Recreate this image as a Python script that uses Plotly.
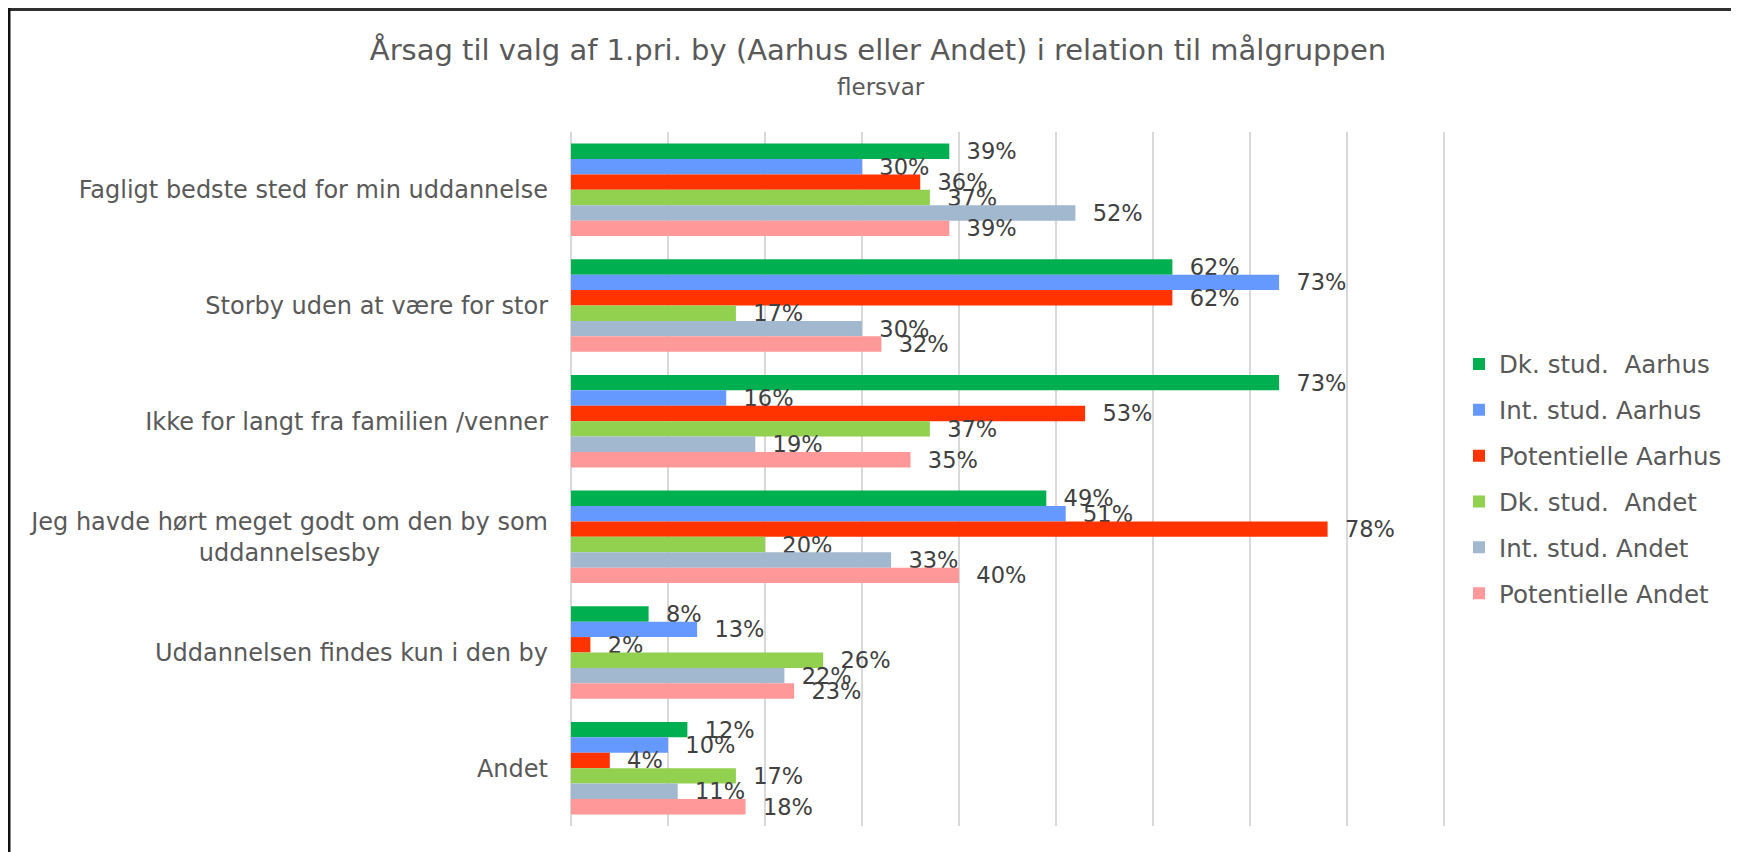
import plotly.graph_objects as go

categories = [
    "Fagligt bedste sted for min uddannelse",
    "Storby uden at være for stor",
    "Ikke for langt fra familien /venner",
    "Jeg havde hørt meget godt om den by som<br>uddannelsesby" + "\u00a0" * 22,
    "Uddannelsen findes kun i den by",
    "Andet",
]
series_names = [
    "Dk. stud.  Aarhus",
    "Int. stud. Aarhus",
    "Potentielle Aarhus",
    "Dk. stud.  Andet",
    "Int. stud. Andet",
    "Potentielle Andet",
]
dk_aarhus = [39, 62, 73, 49, 8, 12]
int_aarhus = [30, 73, 16, 51, 13, 10]
pot_aarhus = [36, 62, 53, 78, 2, 4]
dk_andet = [37, 17, 37, 20, 26, 17]
int_andet = [52, 30, 19, 33, 22, 11]
pot_andet = [39, 32, 35, 40, 23, 18]
series_values = [dk_aarhus, int_aarhus, pot_aarhus, dk_andet, int_andet, pot_andet]
colors = ["#00B050", "#6699FF", "#FF3300", "#92D050", "#A2B8CF", "#FF9999"]

FONT = "DejaVu Sans"
OFF = 8                      # page body margin offset
W, H = 1739 - OFF, 852 - OFF
XMAX = 92
# target plot area in page pixels (0% at 571, 90% at 1444)
PL, PT, PB = 571, 132, 826
PR = PL + (1444 - 571) * XMAX / 90
L, T, B = PL - OFF, PT - OFF, PB - OFF
RM = 5
paper_w = W - L - RM
paper_h = B - T


def px_x(p):
    return (p - OFF - L) / paper_w


def px_y(p):
    return (B - (p - OFF)) / paper_h


fig = go.Figure()
for name, vals, col in zip(series_names, series_values, colors):
    fig.add_trace(go.Bar(
        y=categories, x=vals, name=name, orientation="h",
        marker=dict(color=col, line=dict(width=0)),
        texttemplate="\u00a0\u00a0%{x}%", textposition="outside",
        textfont=dict(family=FONT, size=22.5, color="#404040"),
        constraintext="none", cliponaxis=False,
        legendgroup=name,
    ))

fig.update_layout(
    width=W, height=H,
    margin=dict(l=L, r=RM, t=T, b=H - B),
    paper_bgcolor="white", plot_bgcolor="white",
    barmode="group", bargap=0.2, bargroupgap=0,
    font=dict(family=FONT, color="#595959"),
    title=dict(
        text="Årsag til valg af 1.pri. by (Aarhus eller Andet) i relation til målgruppen",
        font=dict(family=FONT, size=29, color="#595959"),
        x=(878 - OFF) / W, xanchor="center", xref="container",
        y=1 - (50 - OFF) / H, yanchor="middle", yref="container",
    ),
    legend=dict(
        x=px_x(1459), xanchor="left", y=0.5, yanchor="middle",
        font=dict(family=FONT, size=24.5, color="#595959"),
        tracegroupgap=11, traceorder="grouped",
        bgcolor="rgba(0,0,0,0)",
    ),
    xaxis=dict(
        domain=[0, (PR - PL) / paper_w],
        range=[0, XMAX], tickmode="array", tickvals=list(range(0, 91, 10)),
        showticklabels=False,
        showgrid=True, gridcolor="#D9D9D9", gridwidth=2,
        zeroline=True, zerolinecolor="#D9D9D9", zerolinewidth=2,
        showline=False, fixedrange=True, automargin=False,
    ),
    yaxis=dict(
        autorange="reversed", showgrid=False, showline=False, ticks="",
        ticklabelstandoff=22, automargin=False,
        tickfont=dict(family=FONT, size=24, color="#595959"),
    ),
    annotations=[dict(
        text="flersvar", xref="paper", yref="paper",
        x=px_x(794 * 1739 / 1568), y=px_y(87), xanchor="center", yanchor="middle",
        showarrow=False, font=dict(family=FONT, size=23, color="#595959"),
    )],
    shapes=[
        dict(type="line", xref="paper", yref="paper",
             x0=px_x(9), x1=px_x(1739 + 5), y0=px_y(9.5), y1=px_y(9.5),
             line=dict(color="#303030", width=3)),
        dict(type="line", xref="paper", yref="paper",
             x0=px_x(9), x1=px_x(9), y0=px_y(8), y1=px_y(852 + 5),
             line=dict(color="#101010", width=3)),
    ],
)

fig.write_html("out.html")
